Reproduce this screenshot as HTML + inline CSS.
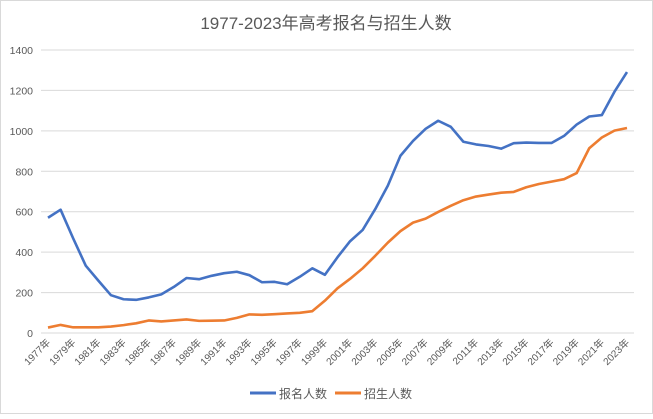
<!DOCTYPE html>
<html><head><meta charset="utf-8"><style>
body{margin:0;background:#fff;}
svg{font-family:"Liberation Sans","Noto Sans CJK SC",sans-serif;}
</style></head><body>
<svg width="653" height="414">
<rect x="0.5" y="0.5" width="652" height="413" fill="#fff" stroke="#d9d9d9"/>
<text x="326" y="29" text-anchor="middle" font-size="17" fill="#595959">1977-2023年高考报名与招生人数</text>
<g id="grid"></g><g id="xl"></g><g id="lines"></g>
<g>
<line x1="250" y1="393" x2="276" y2="393" stroke="#4472c4" stroke-width="3"/>
<text x="279" y="398" font-size="12" fill="#595959">报名人数</text>
<line x1="335" y1="393" x2="361" y2="393" stroke="#ed7d31" stroke-width="3"/>
<text x="364" y="398" font-size="12" fill="#595959">招生人数</text>
</g>
</svg>
<script>
const years=[];for(let y=1977;y<=2023;y++)years.push(y);
const applicants=[570,610,468,333,259,187,167,164,176,191,228,272,266,283,296,303,286,251,253,241,278,320,288,375,454,510,613,729,877,950,1010,1050,1020,946,933,925,912,939,942,940,940,975,1031,1071,1078,1193,1291];
const enrolled=[27,40,28,28,28,32,39,48,62,57,62,67,60,61,62,75,92,90,93,97,100,108,160,221,268,320,382,447,504,546,566,599,629,657,675,685,694,698,721,737,749,761,791,914,967,1001,1014];
const yTicks=[0,200,400,600,800,1000,1200,1400];
const NS="http://www.w3.org/2000/svg";
const X=i=>48+i*(627-48)/(years.length-1);
const Y=v=>333-v*(333-50)/1400;
function mk(t,a,p){const e=document.createElementNS(NS,t);for(const k in a)e.setAttribute(k,a[k]);p.appendChild(e);return e;}
const grid=document.getElementById('grid');
yTicks.forEach(v=>{
 const l=mk('line',{x1:41,x2:634,y1:Y(v),y2:Y(v),stroke:'#d9d9d9','stroke-width':1},grid);
 
 
 const t=mk('text',{x:33,y:Y(v)+4,'text-anchor':'end','font-size':'10.5',fill:'#595959'},grid);
 t.textContent=v;
 
 
});
const xl=document.getElementById('xl');
years.forEach((y,i)=>{
 if(i%2)return;
 const x=X(i),yy=343;
 const t=mk('text',{x:x+3,y:yy,'text-anchor':'end','font-size':'10',fill:'#595959',transform:`rotate(-45 ${x+3} ${yy})`},xl);
 t.textContent=y+'年';
 
 
});
const lines=document.getElementById('lines');
function draw(arr,c,n){
 const p=mk('polyline',{points:arr.map((v,i)=>X(i)+','+Y(v)).join(' '),fill:'none',stroke:c,'stroke-width':2.6,'stroke-linejoin':'round'},lines);
 
 
}
draw(applicants,'#4472c4','series-applicants');
draw(enrolled,'#ed7d31','series-enrolled');
</script>
</body></html>
